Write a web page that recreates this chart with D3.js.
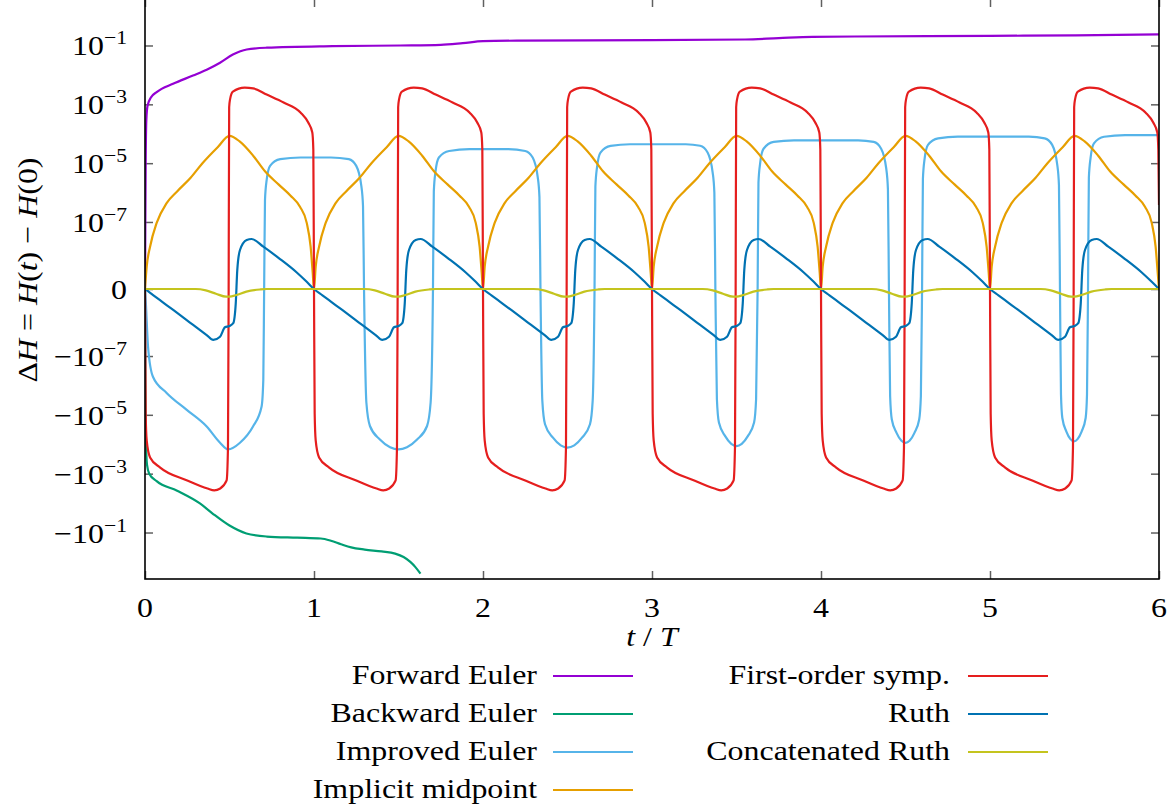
<!DOCTYPE html>
<html>
<head>
<meta charset="utf-8">
<script src="https://cdn.jsdelivr.net/npm/d3@7"></script>
<style>
    body { margin: 0; background: #fff; }
    text { font-family: "Liberation Serif", serif; fill: #000; }
</style>
</head>
<body>
<svg id="chart" width="1174" height="810"></svg>
<script>
// energy error per method, [t/T, dH]
var forwardEuler = [[0,0],[0.002,1e-7],[0.004,1e-5],[0.008,3e-4],[0.015,9e-4],[0.035,1.7e-3],[0.069,2.6e-3],[0.166,5e-3],[0.284,9.5e-3],[0.365,1.5e-2],[0.444,2.6e-2],[0.52,4.9e-2],[0.602,7.3e-2],[0.72,8.4e-2],[1.11,0.095],[1.51,0.1],[1.75,0.105],[1.88,0.12],[2.0,0.14],[2.2,0.146],[3.0,0.152],[3.55,0.16],[3.75,0.178],[3.95,0.196],[4.2,0.202],[5.0,0.212],[5.5,0.222],[6.0,0.24]];

var backwardEuler = [[0,0],[0.002,-1e-6],[0.004,-2e-5],[0.007,-1.5e-4],[0.012,-5e-4],[0.025,-1e-3],[0.069,-1.8e-3],[0.19,-3.8e-3],[0.325,-1.03e-2],[0.4,-2.26e-2],[0.5,-5.8e-2],[0.6,-0.108],[0.72,-0.137],[0.9,-0.15],[1.04,-0.16],[1.1,-0.19],[1.16,-0.25],[1.22,-0.32],[1.3,-0.38],[1.4,-0.44],[1.48,-0.52],[1.53,-0.68],[1.57,-1.0],[1.6,-1.5],[1.63,-2.5]];

var improvedEuler = [
    [0,0],[0.004,-7e-10],[0.018,-4.8e-8],[0.047,-5.1e-7],[0.128,-1.8e-6],[0.247,-6.8e-6],[0.365,-2.5e-5],[0.444,-8.9e-5],[0.491,-1.5e-4],[0.562,-8.9e-5],[0.639,-2.5e-5],[0.69,-5.2e-6],[0.70,-6.5e-7],[0.705,0],
    [0.71,5.6e-7],[0.72,2.7e-6],[0.74,8.1e-6],[0.8,1.37e-5],[0.92,1.56e-5],[1.1,1.56e-5],[1.206,1.37e-5],[1.25,8.1e-6],[1.28,1.7e-6],[1.29,3.5e-7],[1.296,0],
    [1.31,-3.9e-6],[1.331,-2.4e-5],[1.39,-6.9e-5],[1.45,-1.26e-4],[1.5,-1.5e-4],[1.55,-1.26e-4],[1.61,-6.9e-5],[1.669,-2.4e-5],[1.69,-3.9e-6],[1.704,0],
    [1.709,1.1e-6],[1.719,5.2e-6],[1.739,1.56e-5],[1.8,2.6e-5],[1.92,3e-5],[2.15,3e-5],[2.25,2.6e-5],[2.294,1.56e-5],[2.324,3.3e-6],[2.334,7e-7],[2.34,0],
    [2.351,-3.3e-6],[2.367,-2.1e-5],[2.414,-6e-5],[2.46,-1.09e-4],[2.5,-1.3e-4],[2.54,-1.09e-4],[2.586,-6e-5],[2.633,-2.1e-5],[2.649,-3.3e-6],[2.66,0],
    [2.665,1.6e-6],[2.675,7.5e-6],[2.695,2.3e-5],[2.755,3.9e-5],[2.87,4.4e-5],[3.2,4.4e-5],[3.285,3.9e-5],[3.329,2.3e-5],[3.359,4.8e-6],[3.369,1e-6],[3.375,0],
    [3.384,-2.9e-6],[3.396,-1.84e-5],[3.433,-5.3e-5],[3.469,-9.7e-5],[3.5,-1.15e-4],[3.531,-9.7e-5],[3.567,-5.3e-5],[3.604,-1.84e-5],[3.616,-2.9e-6],[3.625,0],
    [3.63,2.2e-6],[3.64,1e-5],[3.66,3.1e-5],[3.72,5.3e-5],[3.84,6e-5],[4.22,6e-5],[4.312,5.3e-5],[4.356,3.1e-5],[4.386,6.6e-6],[4.396,1.3e-6],[4.402,0],
    [4.409,-2.3e-6],[4.419,-1.44e-5],[4.447,-4.1e-5],[4.476,-7.6e-5],[4.5,-9e-5],[4.524,-7.6e-5],[4.553,-4.1e-5],[4.581,-1.44e-5],[4.591,-2.3e-6],[4.598,0],
    [4.603,2.9e-6],[4.613,1.4e-5],[4.633,4.2e-5],[4.693,7e-5],[4.81,8e-5],[5.23,8e-5],[5.324,7e-5],[5.368,4.2e-5],[5.398,8.8e-6],[5.408,1.8e-6],[5.414,0],
    [5.42,-2e-6],[5.428,-1.28e-5],[5.452,-3.7e-5],[5.476,-6.7e-5],[5.497,-8e-5],[5.518,-6.7e-5],[5.542,-3.7e-5],[5.566,-1.28e-5],[5.574,-2e-6],[5.58,0],
    [5.585,3.2e-6],[5.595,1.5e-5],[5.615,4.7e-5],[5.675,7.9e-5],[5.8,9e-5],[6,9e-5]
];

var implicitMidpoint = [
    [0,0],[0.01,2.5e-9],[0.03,1.4e-8],[0.069,9.3e-8],[0.128,4.4e-7],[0.19,1.1e-6],[0.27,3.2e-6],[0.34,1e-5],[0.43,3.5e-5],[0.5,8.5e-5],[0.56,5.5e-5],[0.64,1.8e-5],[0.71,5.3e-6],[0.79,1.9e-6],[0.86,8e-7],[0.917,3.3e-7],[0.957,9.3e-8],[0.98,1.4e-8],[0.992,1.5e-9],
    [1,0],[1.01,2.5e-9],[1.03,1.4e-8],[1.069,9.3e-8],[1.128,4.4e-7],[1.19,1.1e-6],[1.27,3.2e-6],[1.34,1e-5],[1.43,3.5e-5],[1.5,8.5e-5],[1.56,5.5e-5],[1.64,1.8e-5],[1.71,5.3e-6],[1.79,1.9e-6],[1.86,8e-7],[1.917,3.3e-7],[1.957,9.3e-8],[1.98,1.4e-8],[1.992,1.5e-9],
    [2,0],[2.01,2.5e-9],[2.03,1.4e-8],[2.069,9.3e-8],[2.128,4.4e-7],[2.19,1.1e-6],[2.27,3.2e-6],[2.34,1e-5],[2.43,3.5e-5],[2.5,8.5e-5],[2.56,5.5e-5],[2.64,1.8e-5],[2.71,5.3e-6],[2.79,1.9e-6],[2.86,8e-7],[2.917,3.3e-7],[2.957,9.3e-8],[2.98,1.4e-8],[2.992,1.5e-9],
    [3,0],[3.01,2.5e-9],[3.03,1.4e-8],[3.069,9.3e-8],[3.128,4.4e-7],[3.19,1.1e-6],[3.27,3.2e-6],[3.34,1e-5],[3.43,3.5e-5],[3.5,8.5e-5],[3.56,5.5e-5],[3.64,1.8e-5],[3.71,5.3e-6],[3.79,1.9e-6],[3.86,8e-7],[3.917,3.3e-7],[3.957,9.3e-8],[3.98,1.4e-8],[3.992,1.5e-9],
    [4,0],[4.01,2.5e-9],[4.03,1.4e-8],[4.069,9.3e-8],[4.128,4.4e-7],[4.19,1.1e-6],[4.27,3.2e-6],[4.34,1e-5],[4.43,3.5e-5],[4.5,8.5e-5],[4.56,5.5e-5],[4.64,1.8e-5],[4.71,5.3e-6],[4.79,1.9e-6],[4.86,8e-7],[4.917,3.3e-7],[4.957,9.3e-8],[4.98,1.4e-8],[4.992,1.5e-9],
    [5,0],[5.01,2.5e-9],[5.03,1.4e-8],[5.069,9.3e-8],[5.128,4.4e-7],[5.19,1.1e-6],[5.27,3.2e-6],[5.34,1e-5],[5.43,3.5e-5],[5.5,8.5e-5],[5.56,5.5e-5],[5.64,1.8e-5],[5.71,5.3e-6],[5.79,1.9e-6],[5.86,8e-7],[5.917,3.3e-7],[5.957,9.3e-8],[5.98,1.4e-8],[5.992,1.5e-9],
    [6,0]
];

var firstOrderSymp = [
    [0,0],[0.004,-9e-6],[0.01,-7.4e-5],[0.03,-2.8e-4],[0.09,-6.2e-4],[0.25,-1.7e-3],[0.37,-3.2e-3],[0.41,-3.7e-3],[0.445,-3.2e-3],[0.483,-1.7e-3],[0.491,-1.3e-4],[0.495,0],[0.498,8e-4],[0.503,1.45e-3],[0.52,2.7e-3],[0.59,3.7e-3],[0.64,3.5e-3],[0.72,2.15e-3],[0.82,1.16e-3],[0.92,5.3e-4],[0.966,2.4e-4],[0.99,1.1e-4],[0.996,2.9e-5],
    [1,0],[1.004,-9e-6],[1.01,-7.4e-5],[1.03,-2.8e-4],[1.09,-6.2e-4],[1.25,-1.7e-3],[1.37,-3.2e-3],[1.41,-3.7e-3],[1.445,-3.2e-3],[1.483,-1.7e-3],[1.491,-1.3e-4],[1.495,0],[1.498,8e-4],[1.503,1.45e-3],[1.52,2.7e-3],[1.59,3.7e-3],[1.64,3.5e-3],[1.72,2.15e-3],[1.82,1.16e-3],[1.92,5.3e-4],[1.966,2.4e-4],[1.99,1.1e-4],[1.996,2.9e-5],
    [2,0],[2.004,-9e-6],[2.01,-7.4e-5],[2.03,-2.8e-4],[2.09,-6.2e-4],[2.25,-1.7e-3],[2.37,-3.2e-3],[2.41,-3.7e-3],[2.445,-3.2e-3],[2.483,-1.7e-3],[2.491,-1.3e-4],[2.495,0],[2.498,8e-4],[2.503,1.45e-3],[2.52,2.7e-3],[2.59,3.7e-3],[2.64,3.5e-3],[2.72,2.15e-3],[2.82,1.16e-3],[2.92,5.3e-4],[2.966,2.4e-4],[2.99,1.1e-4],[2.996,2.9e-5],
    [3,0],[3.004,-9e-6],[3.01,-7.4e-5],[3.03,-2.8e-4],[3.09,-6.2e-4],[3.25,-1.7e-3],[3.37,-3.2e-3],[3.41,-3.7e-3],[3.445,-3.2e-3],[3.483,-1.7e-3],[3.491,-1.3e-4],[3.495,0],[3.498,8e-4],[3.503,1.45e-3],[3.52,2.7e-3],[3.59,3.7e-3],[3.64,3.5e-3],[3.72,2.15e-3],[3.82,1.16e-3],[3.92,5.3e-4],[3.966,2.4e-4],[3.99,1.1e-4],[3.996,2.9e-5],
    [4,0],[4.004,-9e-6],[4.01,-7.4e-5],[4.03,-2.8e-4],[4.09,-6.2e-4],[4.25,-1.7e-3],[4.37,-3.2e-3],[4.41,-3.7e-3],[4.445,-3.2e-3],[4.483,-1.7e-3],[4.491,-1.3e-4],[4.495,0],[4.498,8e-4],[4.503,1.45e-3],[4.52,2.7e-3],[4.59,3.7e-3],[4.64,3.5e-3],[4.72,2.15e-3],[4.82,1.16e-3],[4.92,5.3e-4],[4.966,2.4e-4],[4.99,1.1e-4],[4.996,2.9e-5],
    [5,0],[5.004,-9e-6],[5.01,-7.4e-5],[5.03,-2.8e-4],[5.09,-6.2e-4],[5.25,-1.7e-3],[5.37,-3.2e-3],[5.41,-3.7e-3],[5.445,-3.2e-3],[5.483,-1.7e-3],[5.491,-1.3e-4],[5.495,0],[5.498,8e-4],[5.503,1.45e-3],[5.52,2.7e-3],[5.59,3.7e-3],[5.64,3.5e-3],[5.72,2.15e-3],[5.82,1.16e-3],[5.92,5.3e-4],[5.966,2.4e-4],[5.99,1.1e-4],[5.996,2.9e-5],
    [6,3.8e-7]
];

var ruth = [
    [0,0],[0.05,-3.4e-10],[0.1,-8.9e-10],[0.167,-2.2e-9],[0.266,-6.8e-9],[0.365,-1.9e-8],[0.404,-2.8e-8],[0.444,-2.17e-8],[0.473,-1.01e-8],[0.499,-9.1e-9],[0.522,-7.2e-9],[0.537,-1.1e-9],[0.546,1.8e-9],[0.562,1.07e-8],[0.602,2.4e-8],[0.631,2.6e-8],[0.7,1.4e-8],[0.799,5e-9],[0.898,1.4e-9],[0.957,4e-10],
    [1,0],[1.05,-3.4e-10],[1.1,-8.9e-10],[1.167,-2.2e-9],[1.266,-6.8e-9],[1.365,-1.9e-8],[1.404,-2.8e-8],[1.444,-2.17e-8],[1.473,-1.01e-8],[1.499,-9.1e-9],[1.522,-7.2e-9],[1.537,-1.1e-9],[1.546,1.8e-9],[1.562,1.07e-8],[1.602,2.4e-8],[1.631,2.6e-8],[1.7,1.4e-8],[1.799,5e-9],[1.898,1.4e-9],[1.957,4e-10],
    [2,0],[2.05,-3.4e-10],[2.1,-8.9e-10],[2.167,-2.2e-9],[2.266,-6.8e-9],[2.365,-1.9e-8],[2.404,-2.8e-8],[2.444,-2.17e-8],[2.473,-1.01e-8],[2.499,-9.1e-9],[2.522,-7.2e-9],[2.537,-1.1e-9],[2.546,1.8e-9],[2.562,1.07e-8],[2.602,2.4e-8],[2.631,2.6e-8],[2.7,1.4e-8],[2.799,5e-9],[2.898,1.4e-9],[2.957,4e-10],
    [3,0],[3.05,-3.4e-10],[3.1,-8.9e-10],[3.167,-2.2e-9],[3.266,-6.8e-9],[3.365,-1.9e-8],[3.404,-2.8e-8],[3.444,-2.17e-8],[3.473,-1.01e-8],[3.499,-9.1e-9],[3.522,-7.2e-9],[3.537,-1.1e-9],[3.546,1.8e-9],[3.562,1.07e-8],[3.602,2.4e-8],[3.631,2.6e-8],[3.7,1.4e-8],[3.799,5e-9],[3.898,1.4e-9],[3.957,4e-10],
    [4,0],[4.05,-3.4e-10],[4.1,-8.9e-10],[4.167,-2.2e-9],[4.266,-6.8e-9],[4.365,-1.9e-8],[4.404,-2.8e-8],[4.444,-2.17e-8],[4.473,-1.01e-8],[4.499,-9.1e-9],[4.522,-7.2e-9],[4.537,-1.1e-9],[4.546,1.8e-9],[4.562,1.07e-8],[4.602,2.4e-8],[4.631,2.6e-8],[4.7,1.4e-8],[4.799,5e-9],[4.898,1.4e-9],[4.957,4e-10],
    [5,0],[5.05,-3.4e-10],[5.1,-8.9e-10],[5.167,-2.2e-9],[5.266,-6.8e-9],[5.365,-1.9e-8],[5.404,-2.8e-8],[5.444,-2.17e-8],[5.473,-1.01e-8],[5.499,-9.1e-9],[5.522,-7.2e-9],[5.537,-1.1e-9],[5.546,1.8e-9],[5.562,1.07e-8],[5.602,2.4e-8],[5.631,2.6e-8],[5.7,1.4e-8],[5.799,5e-9],[5.898,1.4e-9],[5.957,4e-10],
    [6,0]
];

var concatRuth = [
    [0,0],[0.3,0],[0.36,-6e-11],[0.42,-2.4e-10],[0.48,-4.4e-10],[0.5,-4.4e-10],[0.54,-3.2e-10],[0.6,-1.2e-10],[0.68,-2e-11],[0.72,0],
    [1,0],[1.3,0],[1.36,-6e-11],[1.42,-2.4e-10],[1.48,-4.4e-10],[1.5,-4.4e-10],[1.54,-3.2e-10],[1.6,-1.2e-10],[1.68,-2e-11],[1.72,0],
    [2,0],[2.3,0],[2.36,-6e-11],[2.42,-2.4e-10],[2.48,-4.4e-10],[2.5,-4.4e-10],[2.54,-3.2e-10],[2.6,-1.2e-10],[2.68,-2e-11],[2.72,0],
    [3,0],[3.3,0],[3.36,-6e-11],[3.42,-2.4e-10],[3.48,-4.4e-10],[3.5,-4.4e-10],[3.54,-3.2e-10],[3.6,-1.2e-10],[3.68,-2e-11],[3.72,0],
    [4,0],[4.3,0],[4.36,-6e-11],[4.42,-2.4e-10],[4.48,-4.4e-10],[4.5,-4.4e-10],[4.54,-3.2e-10],[4.6,-1.2e-10],[4.68,-2e-11],[4.72,0],
    [5,0],[5.3,0],[5.36,-6e-11],[5.42,-2.4e-10],[5.48,-4.4e-10],[5.5,-4.4e-10],[5.54,-3.2e-10],[5.6,-1.2e-10],[5.68,-2e-11],[5.72,0],
    [6,0]
];

var seriesNames = ["Forward Euler", "Backward Euler", "Improved Euler", "Implicit midpoint",
    "First-order symp.", "Ruth", "Concatenated Ruth"];
var seriesData = [forwardEuler, backwardEuler, improvedEuler, implicitMidpoint,
    firstOrderSymp, ruth, concatRuth];
var seriesColors = ["#9400d3", "#009e73", "#56b4e9", "#e69f00", "#e51e1e", "#0072b2", "#c4c41e"];

var xTicks = [0, 1, 2, 3, 4, 5, 6];
var yTicks = [1e-1, 1e-3, 1e-5, 1e-7, 0, -1e-7, -1e-5, -1e-3, -1e-1];
var yTickExp = ["−1", "−3", "−5", "−7", "", "−7", "−5", "−3", "−1"];

var svg = d3.select("#chart");
// note: "top" is reserved on window, so plot edges get their own names
var plotL = 145, plotR = 1159, plotT = -1, plotB = 579;
var sx = 1.14; // reference glyphs run a bit wider than Liberation

var x = d3.scaleLinear().domain([0, 6]).range([plotL, plotR]);
var y = d3.scaleSymlog().constant(5.3e-10).domain([-3.8, 3.8]).range([plotB, plotT]);

svg.append("clipPath").attr("id", "plotclip")
    .append("rect")
    .attr("x", plotL).attr("y", plotT)
    .attr("width", plotR - plotL).attr("height", plotB - plotT);

// ticks, drawn inward on all four sides
var tickG = svg.append("g").attr("class", "ticks");
tickG.append("g")
    .attr("transform", "translate(0," + plotB + ")")
    .call(d3.axisBottom(x).tickValues(xTicks).tickSize(-8).tickFormat(""));
tickG.append("g")
    .attr("transform", "translate(0," + plotT + ")")
    .call(d3.axisTop(x).tickValues(xTicks).tickSize(-8).tickFormat(""));
tickG.append("g")
    .attr("transform", "translate(" + plotL + ",0)")
    .call(d3.axisLeft(y).tickValues(yTicks).tickSize(-8).tickFormat(""));
tickG.append("g")
    .attr("transform", "translate(" + plotR + ",0)")
    .call(d3.axisRight(y).tickValues(yTicks).tickSize(-8).tickFormat(""));
tickG.selectAll(".domain").remove();
tickG.selectAll(".tick line").attr("stroke", "#606060").attr("stroke-width", 1.5);

// curves
var line = d3.line()
    .curve(d3.curveMonotoneX)
    .x(function (d) { return x(d[0]); })
    .y(function (d) { return y(d[1]); });

svg.append("g")
    .attr("clip-path", "url(#plotclip)")
    .selectAll("path")
    .data(seriesData)
    .enter().append("path")
    .attr("d", line)
    .attr("fill", "none")
    .attr("stroke", function (d, i) { return seriesColors[i]; })
    .attr("stroke-width", 2.2)
    .attr("stroke-linejoin", "round");

// frame
svg.append("rect")
    .attr("x", plotL).attr("y", plotT)
    .attr("width", plotR - plotL).attr("height", plotB - plotT)
    .attr("fill", "none").attr("stroke", "#000").attr("stroke-width", 1.6);

function label(px, py, anchor, size) {
    return svg.append("text")
        .attr("transform", "translate(" + px + "," + py + ") scale(" + sx + ",1)")
        .attr("text-anchor", anchor)
        .style("font-size", size + "px");
}

// x tick labels
xTicks.forEach(function (t) {
    label(x(t), 617, "middle", 28).text(t);
});

// y tick labels
yTicks.forEach(function (v, i) {
    var t = label(127, y(v) + 10, "end", 28);
    if (v === 0) {
        t.text("0");
        return;
    }
    t.append("tspan").text(v < 0 ? "−10" : "10");
    t.append("tspan").attr("dy", -11).style("font-size", "19px").text(yTickExp[i]);
});

// axis titles
var xt = label(652, 646, "middle", 28);
xt.append("tspan").style("font-style", "italic").text("t");
xt.append("tspan").text(" / ");
xt.append("tspan").style("font-style", "italic").text("T");

var yt = svg.append("text")
    .attr("transform", "translate(37,270) rotate(-90) scale(" + sx + ",1)")
    .attr("text-anchor", "middle")
    .style("font-size", "28px");
yt.append("tspan").text("Δ");
yt.append("tspan").style("font-style", "italic").text("H");
yt.append("tspan").text(" = ");
yt.append("tspan").style("font-style", "italic").text("H");
yt.append("tspan").text("(");
yt.append("tspan").style("font-style", "italic").text("t");
yt.append("tspan").text(") − ");
yt.append("tspan").style("font-style", "italic").text("H");
yt.append("tspan").text("(0)");

// legend, two columns
var legendCols = [
    {textX: 537, lineX: 553, items: [0, 1, 2, 3]},
    {textX: 950, lineX: 968, items: [4, 5, 6]}
];
var rowY = [675, 713, 751, 789];

legendCols.forEach(function (col) {
    col.items.forEach(function (k, r) {
        label(col.textX, rowY[r] + 9, "end", 28).text(seriesNames[k]);
        svg.append("line")
            .attr("x1", col.lineX).attr("x2", col.lineX + 80)
            .attr("y1", rowY[r] + 1).attr("y2", rowY[r] + 1)
            .attr("stroke", seriesColors[k])
            .attr("stroke-width", 2.2);
    });
});
</script>
</body>
</html>
